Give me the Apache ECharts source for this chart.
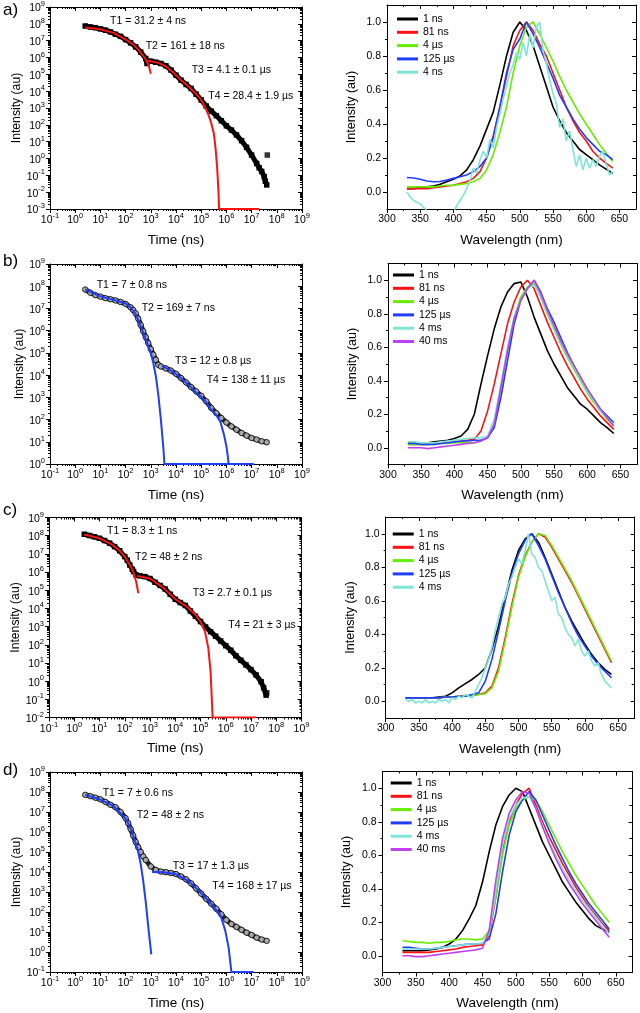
<!DOCTYPE html>
<html><head><meta charset="utf-8">
<script src="https://cdn.jsdelivr.net/npm/echarts@6/dist/echarts.min.js"></script>
<style>html,body{margin:0;padding:0;background:#fff}#c{width:640px;height:1013px}</style>
</head><body><div id="c"></div><script>
// ---------------- DATA ----------------
// Decay curves (time in ns, intensity in au)
const timeA = [2.5,4,6.3,10,15.8,25.1,39.8,63.1,100,158,251,398,631,708,794,1000,1585,2512,3981,6310,1e4,1.585e4,2.512e4,3.981e4,6.31e4,1e5,1.585e5,2.512e5,3.981e5,6.31e5,1e6,1.585e6,2.512e6,3.981e6,6.31e6,1e7,1.585e7,2e7,2.512e7,3.162e7,3.5e7,3.981e7];
const countsA = [7.4e7,6.5e7,5.9e7,5.0e7,4.2e7,3.3e7,2.4e7,1.8e7,1.15e7,7.4e6,4.3e6,2.1e6,8.7e5,4.4e5,6.0e5,6.0e5,5.2e5,4.4e5,3.2e5,1.8e5,8.9e4,4.5e4,2.5e4,1.45e4,6.6e3,3.0e3,1.3e3,650,350,175,87,49,25,11.5,4.6,1.6,0.51,0.28,0.17,0.083,0.045,0.027];
const outlierTimeA = [4.2e7], outlierA = [1.6];
const fit1TimeA = [2.5,10,31.6,100,200,316,501,631,794,891,1000];
const fit1A = [6.0e7,4.8e7,3.0e7,1.2e7,6.0e6,3.0e6,1.26e6,7.6e5,4.0e5,2.2e5,1.1e5];
const fit2TimeA = [708,1000,2000,3981,7943,15849,31623,63096,93325,1.48e5,2e5,2.51e5,3.16e5,3.72e5,4.27e5,4.79e5,5.13e5,1e6,1e7,2e7];
const fit2A = [6.3e5,6.0e5,4.8e5,3.0e5,1.26e5,4.5e4,1.9e4,6.8e3,3.5e3,1000,355,126,32,4,0.32,0.016,0.001,0.001,0.001,0.001];

const timeB = [2.5,4,6.3,10,15.8,25.1,39.8,63.1,100,158,200,251,316,398,501,631,794,1000,1259,1585,1995,2512,3981,6310,1e4,1.585e4,2.512e4,3.981e4,6.31e4,1e5,1.585e5,2.512e5,3.981e5,6.31e5,1e6,1.585e6,2.512e6,3.981e6,6.31e6,1e7,1.585e7,2.512e7,3.981e7];
const countsB = [7.1e7,5.1e7,4.0e7,3.4e7,2.9e7,2.6e7,2.3e7,1.95e7,1.6e7,1.12e7,8.5e6,6.0e6,3.5e6,1.8e6,9.5e5,5.1e5,2.75e5,1.48e5,8.3e4,4.9e4,2.9e4,2.45e4,2.0e4,1.6e4,1.15e4,7.4e3,4.7e3,2.9e3,1.86e3,1.17e3,660,330,195,117,74,49,35,25,19,14.8,12.6,10.5,9.5];
const fit1TimeB = [2.5,10,31.6,100,158,251,398,631,1000,1259,1585,1995,2512,3162,3467,1.2e7];
const fit1B = [7.1e7,3.5e7,2.5e7,1.66e7,1.12e7,5.6e6,1.58e6,4.2e5,1.0e5,3.5e4,8.9e3,1.26e3,100,5,1,1];
const fit2TimeB = [2818,3981,6310,1e4,1.585e4,2.512e4,3.981e4,6.31e4,1e5,1.585e5,2.512e5,3.981e5,5.75e5,7.94e5,1e6,1.12e6,1.23e6,1.2e7];
const fit2B = [2.6e4,2.1e4,1.6e4,1.12e4,7.2e3,4.6e3,2.8e3,1.66e3,1.05e3,600,282,158,79,22,6.3,2.5,1,1];

const timeC = [2.5,4,6.3,10,15.8,25.1,39.8,63.1,100,126,158,200,224,282,398,631,1000,1585,2512,3981,6310,1e4,1.585e4,2.512e4,3.981e4,6.31e4,1e5,1.585e5,2.512e5,3.981e5,6.31e5,1e6,1.585e6,2.512e6,3.981e6,6.31e6,1e7,1.585e7,2.512e7,3.162e7,3.981e7];
const countsC = [1.2e8,1.02e8,8.7e7,7.2e7,5.4e7,3.9e7,2.5e7,1.48e7,7.1e6,4.5e6,2.45e6,1.41e6,1.07e6,6.9e5,6.2e5,5.6e5,4.4e5,2.75e5,1.82e5,1.17e5,6.0e4,3.2e4,2.1e4,1.45e4,7.2e3,3.7e3,1.9e3,955,525,295,162,89,50,25,14,7.8,4.3,2.2,0.93,0.44,0.17];
const outlierTimeC = [4.2e7], outlierC = [0.23];
const fit1TimeC = [2.5,10,31.6,63.1,100,158,200,224,282,347];
const fit1C = [1.15e8,7.2e7,3.2e7,1.48e7,7.1e6,2.45e6,1.32e6,8.9e5,3.0e5,6.8e4];
const fit2TimeC = [316,1000,3162,1e4,3.162e4,6.31e4,1e5,1.51e5,2.04e5,2.51e5,3.02e5,1.6e7];
const fit2C = [6.0e5,4.4e5,1.48e5,3.3e4,1.12e4,4.5e3,1.9e3,525,65,3.3,0.01,0.01];

const timeD = [2.5,4,6.3,10,15.8,25.1,39.8,63.1,100,126,158,200,251,316,398,501,631,1000,1585,2512,3981,6310,1e4,1.585e4,2.512e4,3.981e4,6.31e4,1e5,1.585e5,2.512e5,3.981e5,6.31e5,1e6,1.585e6,2.512e6,3.981e6,6.31e6,1e7,1.585e7,2.512e7,3.981e7];
const countsD = [7.2e7,6.2e7,5.2e7,4.3e7,3.2e7,2.3e7,1.74e7,1.0e7,4.9e6,2.8e6,1.41e6,6.6e5,3.2e5,1.74e5,1.0e5,6.0e4,4.0e4,1.9e4,1.26e4,1.05e4,9.8e3,8.9e3,7.9e3,6.0e3,4.3e3,2.7e3,1.5e3,830,457,257,145,76,40,25,18,12.9,9.3,7.1,5.2,4.2,3.6];
const fit1TimeD = [2.5,10,31.6,100,158,251,316,398,501,631,794,1047];
const fit1D = [7.2e7,4.2e7,2.1e7,4.7e6,1.58e6,2.8e5,1e5,2.5e4,3.5e3,316,17.8,0.76];
const fit2TimeD = [1122,3162,1e4,3.162e4,1e5,2.512e5,4.27e5,5.75e5,7.94e5,9.1e5,1.23e6,1.58e6,1.2e7];
const fit2D = [1e4,9.8e3,7.9e3,3.5e3,890,251,112,71,20,11,1.6,0.1,0.1];

// Spectra (wavelength nm, normalised intensity)
const wl10 = [330,340,350,360,370,380,390,400,410,420,430,440,450,460,470,480,490,500,510,520,530,540,550,560,570,580,590,600,610,620,630,640];
const wl5 = [330,335,340,345,350,355,360,365,370,375,380,385,390,395,400,405,410,415,420,425,430,435,440,445,450,455,460,465,470,475,480,485,490,495,500,505,510,515,520,525,530,535,540,545,550,555,560,565,570,575,580,585,590,595,600,605,610,615,620,625,630,635,640];

const specA_1ns = [0.02,0.02,0.025,0.03,0.035,0.045,0.06,0.075,0.095,0.13,0.19,0.27,0.37,0.47,0.63,0.8,0.94,1.0,0.95,0.86,0.74,0.62,0.5,0.42,0.35,0.3,0.25,0.22,0.19,0.16,0.135,0.11];
const specA_81ns = [0.02,0.02,0.02,0.02,0.025,0.03,0.035,0.04,0.05,0.06,0.08,0.12,0.2,0.33,0.5,0.68,0.86,0.95,1.0,0.95,0.87,0.8,0.7,0.6,0.5,0.42,0.35,0.3,0.24,0.2,0.17,0.14];
const specA_4us = [0.03,0.03,0.03,0.03,0.03,0.035,0.04,0.04,0.045,0.05,0.06,0.08,0.13,0.22,0.35,0.5,0.7,0.86,0.97,1.0,0.93,0.85,0.77,0.68,0.6,0.53,0.46,0.4,0.34,0.28,0.23,0.18];
const specA_125us = [0.085,0.082,0.075,0.065,0.06,0.062,0.07,0.08,0.09,0.1,0.12,0.15,0.2,0.32,0.5,0.7,0.84,0.9,1.0,0.93,0.85,0.76,0.67,0.57,0.5,0.43,0.37,0.32,0.28,0.24,0.22,0.19];
const specA_4ns = [0.0,-0.03,-0.05,-0.06,-0.07,-0.09,-0.11,-0.14,-0.18,-0.21,-0.23,-0.24,-0.22,-0.17,-0.12,-0.08,-0.05,-0.02,0.02,0.07,0.14,0.11,0.19,0.24,0.2,0.31,0.26,0.38,0.46,0.55,0.62,0.7,0.75,0.82,0.78,0.88,0.8,0.93,0.85,0.97,1.0,0.83,0.76,0.66,0.58,0.52,0.38,0.43,0.3,0.36,0.25,0.15,0.22,0.13,0.2,0.14,0.19,0.15,0.21,0.24,0.17,0.1,0.12];

const specB_1ns = [0.03,0.03,0.03,0.03,0.035,0.04,0.045,0.055,0.07,0.11,0.2,0.38,0.55,0.71,0.84,0.93,0.98,0.99,0.9,0.78,0.68,0.58,0.5,0.43,0.36,0.31,0.26,0.23,0.19,0.15,0.12,0.085];
const specB_81ns = [0.02,0.02,0.02,0.02,0.025,0.03,0.03,0.035,0.04,0.045,0.05,0.1,0.22,0.38,0.56,0.74,0.87,0.96,1.0,0.95,0.85,0.75,0.66,0.57,0.49,0.42,0.35,0.29,0.24,0.19,0.15,0.11];
const specB_4us = [0.02,0.02,0.02,0.02,0.02,0.025,0.025,0.03,0.03,0.03,0.03,0.04,0.06,0.15,0.35,0.58,0.78,0.9,0.96,0.98,0.9,0.8,0.71,0.62,0.54,0.47,0.4,0.33,0.27,0.22,0.17,0.13];
const specB_125us = [0.025,0.025,0.02,0.02,0.02,0.025,0.03,0.035,0.04,0.04,0.045,0.045,0.06,0.12,0.3,0.52,0.74,0.88,0.95,1.0,0.93,0.83,0.75,0.66,0.57,0.49,0.42,0.35,0.29,0.23,0.19,0.15];
const specB_4ms = [0.035,0.035,0.03,0.03,0.03,0.035,0.04,0.045,0.05,0.055,0.06,0.06,0.07,0.17,0.38,0.6,0.78,0.88,0.95,0.97,0.9,0.81,0.72,0.63,0.55,0.48,0.41,0.34,0.28,0.22,0.18,0.14];
const specB_40ms = [0.0,0.0,0.0,-0.005,0.0,0.005,0.01,0.015,0.02,0.025,0.03,0.04,0.06,0.14,0.36,0.58,0.77,0.88,0.95,1.0,0.92,0.82,0.73,0.64,0.56,0.49,0.42,0.35,0.29,0.23,0.18,0.13];

const specC_1ns = [0.02,0.02,0.02,0.02,0.02,0.025,0.03,0.05,0.08,0.105,0.13,0.16,0.2,0.31,0.45,0.62,0.78,0.9,0.97,1.0,0.95,0.86,0.76,0.66,0.56,0.48,0.41,0.34,0.28,0.23,0.19,0.16];
const specC_81ns = [0.02,0.02,0.02,0.02,0.02,0.02,0.025,0.025,0.03,0.03,0.035,0.04,0.05,0.09,0.2,0.38,0.58,0.75,0.87,0.95,1.0,0.98,0.92,0.85,0.78,0.71,0.63,0.55,0.47,0.39,0.31,0.23];
const specC_4us = [0.02,0.02,0.02,0.02,0.02,0.02,0.025,0.025,0.03,0.03,0.035,0.04,0.045,0.08,0.18,0.36,0.56,0.74,0.86,0.95,1.0,0.99,0.93,0.86,0.79,0.72,0.64,0.56,0.48,0.4,0.32,0.24];
const specC_125us = [0.02,0.02,0.02,0.02,0.02,0.02,0.025,0.025,0.03,0.03,0.04,0.05,0.12,0.25,0.42,0.6,0.76,0.88,0.96,1.0,0.93,0.85,0.75,0.65,0.56,0.47,0.39,0.33,0.27,0.22,0.18,0.14];
const specC_4ms = [0.01,0.0,0.01,-0.01,0.0,-0.01,0.01,-0.01,0.0,-0.01,0.01,0.0,0.01,-0.01,0.02,0.01,0.03,0.02,0.04,0.03,0.02,0.06,0.1,0.14,0.2,0.25,0.32,0.42,0.5,0.58,0.62,0.7,0.74,0.8,0.85,0.82,0.9,1.0,0.88,0.86,0.8,0.78,0.72,0.66,0.6,0.62,0.52,0.5,0.44,0.4,0.38,0.33,0.37,0.3,0.27,0.3,0.24,0.21,0.23,0.16,0.12,0.1,0.08];

const specD_1ns = [0.03,0.03,0.03,0.03,0.035,0.04,0.05,0.07,0.1,0.15,0.22,0.3,0.44,0.62,0.78,0.89,0.96,1.0,0.98,0.88,0.78,0.68,0.6,0.52,0.44,0.38,0.32,0.27,0.22,0.18,0.16,0.14];
const specD_81ns = [0.02,0.02,0.02,0.02,0.02,0.025,0.03,0.035,0.04,0.05,0.055,0.06,0.065,0.12,0.35,0.62,0.8,0.9,0.97,1.0,0.9,0.8,0.71,0.63,0.55,0.48,0.41,0.35,0.29,0.24,0.19,0.15];
const specD_4us = [0.09,0.085,0.08,0.08,0.075,0.08,0.08,0.085,0.095,0.1,0.1,0.095,0.1,0.15,0.35,0.6,0.78,0.88,0.93,0.95,0.93,0.86,0.78,0.7,0.62,0.55,0.48,0.42,0.36,0.3,0.25,0.2];
const specD_125us = [0.05,0.05,0.045,0.04,0.04,0.045,0.05,0.055,0.06,0.065,0.07,0.07,0.075,0.1,0.25,0.5,0.72,0.86,0.93,0.98,0.93,0.84,0.75,0.66,0.58,0.5,0.43,0.37,0.31,0.26,0.21,0.16];
const specD_4ms = [0.04,0.04,0.04,0.04,0.04,0.045,0.05,0.055,0.06,0.065,0.07,0.07,0.075,0.13,0.4,0.66,0.82,0.9,0.94,0.95,0.88,0.78,0.68,0.6,0.52,0.45,0.39,0.33,0.28,0.23,0.18,0.13];
const specD_40ms = [0.0,0.0,-0.005,-0.005,0.0,0.005,0.01,0.015,0.02,0.025,0.03,0.035,0.045,0.15,0.45,0.7,0.85,0.93,0.98,0.97,0.88,0.77,0.67,0.58,0.5,0.43,0.37,0.31,0.26,0.21,0.16,0.11];

// Tick labels
const timeTicks = [0.1,1,10,100,1e3,1e4,1e5,1e6,1e7,1e8,1e9];
const countTicks = [1e-3,1e-2,0.1,1,10,100,1e3,1e4,1e5,1e6,1e7,1e8,1e9];
const wlTicks = [300,350,400,450,500,550,600,650];
const wlMinor = [325,375,425,475,525,575,625];
const intTicks = [0,0.2,0.4,0.6,0.8,1.0];
const intMinor = [0.1,0.3,0.5,0.7,0.9];

// Texts
const panelLabels = ['a)','b)','c)','d)'];
const lifetimes = [
  ['T1 = 31.2 ± 4 ns','T2 = 161 ± 18 ns','T3 = 4.1 ± 0.1 µs','T4 = 28.4 ± 1.9 µs'],
  ['T1 = 7 ± 0.8 ns','T2 = 169 ± 7 ns','T3 = 12 ± 0.8 µs','T4 = 138 ± 11 µs'],
  ['T1 = 8.3 ± 1 ns','T2 = 48 ± 2 ns','T3 = 2.7 ± 0.1 µs','T4 = 21 ± 3 µs'],
  ['T1 = 7 ± 0.6 ns','T2 = 48 ± 2 ns','T3 = 17 ± 1.3 µs','T4 = 168 ± 17 µs']
];
const legendNamesA = ['1 ns','81 ns','4 µs','125 µs','4 ns'];
const legendNamesB = ['1 ns','81 ns','4 µs','125 µs','4 ms','40 ms'];
const legendNamesC = ['1 ns','81 ns','4 µs','125 µs','4 ms'];
const legendNamesD = ['1 ns','81 ns','4 µs','125 µs','4 ms','40 ms'];

// ---------------- BUILD ----------------
const FF = "'Liberation Sans', Arial, Helvetica, sans-serif";
const COL = {'1 ns':'#000000','81 ns':'#ff1111','4 µs':'#66ee00','125 µs':'#1f3dff','4 ns':'#7fe5d6','4 ms':'#7fe5d6','40 ms':'#c040f0'};
const pts = (xs, ys) => xs.map((x, i) => [x, ys[i]]);

const option = {animation:false, backgroundColor:'#fff', grid:[], xAxis:[], yAxis:[], series:[], legend:[], graphic:[]};

function decadesFrom(list, min){ return list.filter(v => v >= min*0.999); }
function minorsOf(decs){ const out=[]; for (let i=0;i<decs.length-1;i++){ for(let m=2;m<=9;m++) out.push(decs[i]*m); } return out; }
const logRich = {
  b:{fontFamily:FF,fontSize:10.5,color:'#000',lineHeight:14,verticalAlign:'bottom'},
  s:{fontFamily:FF,fontSize:7.5,color:'#000',lineHeight:14,verticalAlign:'top'}
};
function logLabel(v){ const e = Math.round(Math.log(v)/Math.LN10); return '{b|10}{s|' + e + '}'; }

function axis(g, type, min, max, position, ticks, o){
  const a = {gridIndex:g, type:type, min:min, max:max, position:position, silent:true,
    axisLine:{show:o.line!==false, onZero:false, lineStyle:{color:'#000', width:1}},
    axisTick:{show:true, inside:!!o.inside, length:o.len||4, customValues:ticks, lineStyle:{color:'#000', width:1}},
    axisLabel:{show:false}, splitLine:{show:false}, minorTick:{show:false}, minorSplitLine:{show:false}};
  if (type === 'log') a.logBase = 10;
  if (o.labels) {
    a.axisLabel = {show:true, customValues:ticks, margin:o.margin, formatter:o.fmt, color:'#000', fontFamily:FF, fontSize:10.5, hideOverlap:false};
    if (o.rich) a.axisLabel.rich = o.rich;
  }
  if (o.name) { a.name = o.name; a.nameLocation = 'middle'; a.nameGap = o.nameGap;
    a.nameTextStyle = {fontFamily:FF, fontSize:o.nameSize, color:'#000'}; }
  return a;
}

function addGrid(rect){ option.grid.push({left:rect.left, top:rect.top, width:rect.width, height:rect.height, show:false}); return option.grid.length-1; }

function addDecayPanel(rect, ymin){
  const g = addGrid(rect);
  const yT = decadesFrom(countTicks, ymin), yM = minorsOf(yT);
  const xT = timeTicks, xM = minorsOf(xT);
  const xi = option.xAxis.length;
  option.xAxis.push(axis(g,'log',0.1,1e9,'bottom',xT,{labels:true,fmt:logLabel,rich:logRich,margin:3,name:'Time (ns)',nameGap:24,nameSize:13.5}));
  option.xAxis.push(axis(g,'log',0.1,1e9,'bottom',xM,{len:2,line:false}));
  option.xAxis.push(axis(g,'log',0.1,1e9,'top',xT,{inside:true,len:4}));
  option.xAxis.push(axis(g,'log',0.1,1e9,'top',xM,{inside:true,len:2,line:false}));
  const yi = option.yAxis.length;
  option.yAxis.push(axis(g,'log',ymin,1e9,'left',yT,{labels:true,fmt:logLabel,rich:logRich,margin:5,name:'Intensity (au)',nameGap:23,nameSize:12.2}));
  option.yAxis.push(axis(g,'log',ymin,1e9,'left',yM,{len:2,line:false}));
  option.yAxis.push(axis(g,'log',ymin,1e9,'right',yT,{inside:true,len:4}));
  option.yAxis.push(axis(g,'log',ymin,1e9,'right',yM,{inside:true,len:2,line:false}));
  return {xi, yi};
}

function addSpecPanel(rect){
  const g = addGrid(rect);
  const xi = option.xAxis.length;
  option.xAxis.push(axis(g,'value',300,675,'bottom',wlTicks,{labels:true,fmt:v=>String(v),margin:5,name:'Wavelength (nm)',nameGap:24,nameSize:13.5}));
  option.xAxis.push(axis(g,'value',300,675,'bottom',wlMinor,{len:2,line:false}));
  option.xAxis.push(axis(g,'value',300,675,'top',wlTicks,{inside:true,len:4}));
  option.xAxis.push(axis(g,'value',300,675,'top',wlMinor,{inside:true,len:2,line:false}));
  const yi = option.yAxis.length;
  option.yAxis.push(axis(g,'value',-0.1,1.1,'left',intTicks,{labels:true,fmt:v=>v.toFixed(1),margin:6,name:'Intensity (au)',nameGap:29,nameSize:12.5}));
  option.yAxis.push(axis(g,'value',-0.1,1.1,'left',intMinor,{len:2,line:false}));
  option.yAxis.push(axis(g,'value',-0.1,1.1,'right',intTicks,{inside:true,len:4}));
  option.yAxis.push(axis(g,'value',-0.1,1.1,'right',intMinor,{inside:true,len:3,line:false}));
  return {xi, yi};
}

function decaySeries(ax, data, marker){
  const s = {type:'line', xAxisIndex:ax.xi, yAxisIndex:ax.yi, data:data, showSymbol:true, showAllSymbol:true,
    symbolSize:5, z:2, silent:true};
  if (marker === 'square') { s.symbol = 'rect'; s.symbolSize = 5.5; s.itemStyle = {color:'#000'}; s.lineStyle = {color:'#000', width:5}; }
  else { s.symbol = 'circle'; s.symbolSize = 5.5; s.itemStyle = {color:'#a8a8a8', borderColor:'#000', borderWidth:0.8}; s.lineStyle = {color:'#222', width:5}; }
  option.series.push(s);
}
function scatterSeries(ax, data){
  option.series.push({type:'scatter', xAxisIndex:ax.xi, yAxisIndex:ax.yi, data:data, symbol:'rect', symbolSize:5.5, itemStyle:{color:'#000'}, z:2, silent:true});
}
function fitSeries(ax, data, color){
  option.series.push({type:'line', xAxisIndex:ax.xi, yAxisIndex:ax.yi, data:data, showSymbol:false, symbol:'none',
    lineStyle:{color:color, width:2}, z:3, silent:true});
}
function specSeries(ax, name, xs, ys){
  option.series.push({type:'line', name:name, xAxisIndex:ax.xi, yAxisIndex:ax.yi, data:pts(xs, ys), showSymbol:false, symbol:'none',
    lineStyle:{color:COL[name], width:1.6}, itemStyle:{color:COL[name]}, z:3, silent:true});
}
function addLegend(names, left, top){
  option.legend.push({data:names, orient:'vertical', left:left, top:top, icon:'rect', itemWidth:21, itemHeight:3, itemGap:1.3,
    padding:0, selectedMode:false, textStyle:{fontFamily:FF, fontSize:10.5, color:'#000', lineHeight:12}});
}

// Panel a
const dA = addDecayPanel({left:50, top:7, width:252, height:202}, 1e-3);
decaySeries(dA, pts(timeA, countsA), 'square');
scatterSeries(dA, pts(outlierTimeA, outlierA));
fitSeries(dA, pts(fit1TimeA, fit1A), '#ff1111');
fitSeries(dA, pts(fit2TimeA, fit2A), '#ff1111');
const sA = addSpecPanel({left:387, top:5, width:249, height:204});
specSeries(sA, '1 ns', wl10, specA_1ns);
specSeries(sA, '81 ns', wl10, specA_81ns);
specSeries(sA, '4 µs', wl10, specA_4us);
specSeries(sA, '125 µs', wl10, specA_125us);
specSeries(sA, '4 ns', wl5, specA_4ns);
addLegend(legendNamesA, 397, 13);

// Panel b
const dB = addDecayPanel({left:50, top:264, width:252, height:200}, 1);
decaySeries(dB, pts(timeB, countsB), 'circle');
fitSeries(dB, pts(fit1TimeB, fit1B), '#1f3dff');
fitSeries(dB, pts(fit2TimeB, fit2B), '#1f3dff');
const sB = addSpecPanel({left:388, top:263.5, width:249, height:201});
specSeries(sB, '1 ns', wl10, specB_1ns);
specSeries(sB, '81 ns', wl10, specB_81ns);
specSeries(sB, '4 µs', wl10, specB_4us);
specSeries(sB, '125 µs', wl10, specB_125us);
specSeries(sB, '4 ms', wl10, specB_4ms);
specSeries(sB, '40 ms', wl10, specB_40ms);
addLegend(legendNamesB, 393, 269);

// Panel c
const dC = addDecayPanel({left:49, top:517.5, width:252.5, height:200}, 1e-2);
decaySeries(dC, pts(timeC, countsC), 'square');
scatterSeries(dC, pts(outlierTimeC, outlierC));
fitSeries(dC, pts(fit1TimeC, fit1C), '#ff1111');
fitSeries(dC, pts(fit2TimeC, fit2C), '#ff1111');
const sC = addSpecPanel({left:385.7, top:517, width:249, height:201});
specSeries(sC, '1 ns', wl10, specC_1ns);
specSeries(sC, '81 ns', wl10, specC_81ns);
specSeries(sC, '4 µs', wl10, specC_4us);
specSeries(sC, '125 µs', wl10, specC_125us);
specSeries(sC, '4 ms', wl5, specC_4ms);
addLegend(legendNamesC, 392.7, 528);

// Panel d
const dD = addDecayPanel({left:50, top:772, width:252, height:200}, 0.1);
decaySeries(dD, pts(timeD, countsD), 'circle');
fitSeries(dD, pts(fit1TimeD, fit1D), '#1f3dff');
fitSeries(dD, pts(fit2TimeD, fit2D), '#1f3dff');
const sD = addSpecPanel({left:382.5, top:771.5, width:250, height:201});
specSeries(sD, '1 ns', wl10, specD_1ns);
specSeries(sD, '81 ns', wl10, specD_81ns);
specSeries(sD, '4 µs', wl10, specD_4us);
specSeries(sD, '125 µs', wl10, specD_125us);
specSeries(sD, '4 ms', wl10, specD_4ms);
specSeries(sD, '40 ms', wl10, specD_40ms);
addLegend(legendNamesD, 390.7, 777);

// Text annotations
const labelPos = [[3,12],[3,263],[3,512],[3,772]];
panelLabels.forEach((t,i) => option.graphic.push({type:'text', left:labelPos[i][0], top:labelPos[i][1]-10, silent:true,
  style:{text:t, fontFamily:FF, fontSize:17, fill:'#000'}}));
const tPos = [
  [[110,22],[145.7,46.7],[191.7,71],[208.3,96.7]],
  [[96.7,286],[141.7,309.3],[175,361.7],[206.7,381]],
  [[107,531.7],[135,558],[192.7,594],[228.3,626]],
  [[102.7,793.7],[136.7,816.3],[172.7,867.3],[212.3,887]]
];
lifetimes.forEach((arr,i) => arr.forEach((t,j) => option.graphic.push({type:'text', left:tPos[i][j][0], top:tPos[i][j][1]-6.5, silent:true,
  style:{text:t, fontFamily:FF, fontSize:10.5, fill:'#000'}})));

const chart = echarts.init(document.getElementById('c'), null, {renderer:'canvas'});
chart.setOption(option);
</script></body></html>
